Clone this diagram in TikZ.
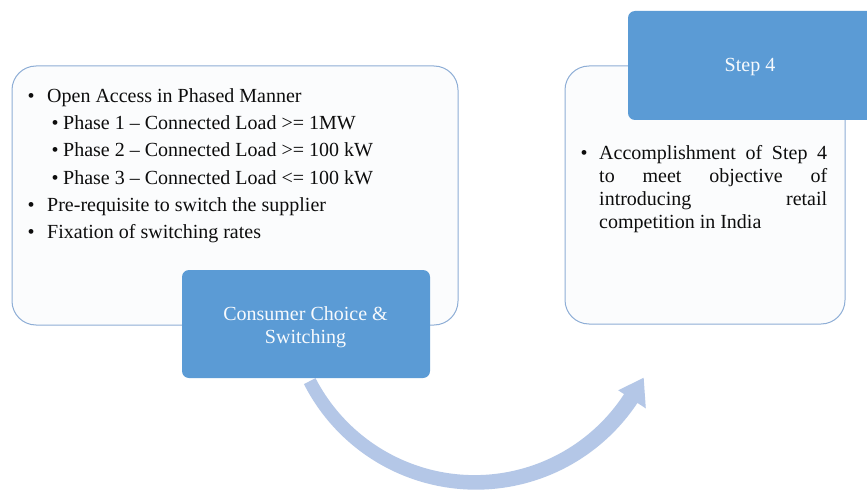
\documentclass[tikz,border=0pt]{standalone}
\usepackage{fontspec}
\setmainfont{Liberation Serif}
\definecolor{stepblue}{HTML}{5B9BD5}
\definecolor{panelline}{HTML}{8EAED6}
\definecolor{panelfill}{HTML}{FBFCFD}
\definecolor{arrowblue}{HTML}{B4C7E7}
\begin{document}
\begin{tikzpicture}[x=1pt,y=-1pt,
  panel/.style={draw=panelline, line width=1pt, fill=panelfill, rounded corners=24pt},
  stepbox/.style={fill=stepblue, rounded corners=7pt},
  txt/.style={anchor=base west, inner sep=0pt, font=\fontsize{20}{24}\selectfont, text=black!95},
  steptxt/.style={anchor=base, inner sep=0pt, font=\fontsize{20}{24}\selectfont, text=white!95!stepblue}]
\useasboundingbox (0,0) rectangle (867,492);
\fill[white] (0,0) rectangle (867,492);

% curved arrow linking the two steps (tapered band with a head)
\def\cx{475.3}\def\cy{296.4}\def\rr{186}
\fill[arrowblue]
  plot[domain=152.9:33.3, samples=70, smooth]
    ({\cx+(\rr+6.5+1.5*(152.9-\x)/119.6)*cos(\x)}, {\cy+(\rr+6.5+1.5*(152.9-\x)/119.6)*sin(\x)})
  -- ({\cx+204*cos(33.3)}, {\cy+204*sin(33.3)})
  -- ({\cx+187*cos(25.8)}, {\cy+187*sin(25.8)})
  -- ({\cx+171*cos(33.3)}, {\cy+171*sin(33.3)})
  -- plot[domain=33.3:152.9, samples=70, smooth]
    ({\cx+(\rr-6.5-1.5*(152.9-\x)/119.6)*cos(\x)}, {\cy+(\rr-6.5-1.5*(152.9-\x)/119.6)*sin(\x)})
  -- cycle;

% left panel
\path[panel] (12,66) rectangle (458,325);
\node[txt] (b1) at (27.5,103) {•};
\node[txt] (l1) at (47,103) {Open Access in Phased Manner};
\node[txt] (b2) at (51.5,130) {•};
\node[txt] (l2) at (63,130) {Phase 1 – Connected Load >= 1MW};
\node[txt] (b3) at (51.5,157) {•};
\node[txt] (l3) at (63,157) {Phase 2 – Connected Load >= 100 kW};
\node[txt] (b4) at (51.5,184) {•};
\node[txt] (l4) at (63,184) {Phase 3 – Connected Load <= 100 kW};
\node[txt] (b5) at (27.5,211) {•};
\node[txt] (l5) at (47,211) {Pre-requisite to switch the supplier};
\node[txt] (b6) at (27.5,238) {•};
\node[txt] (l6) at (47,238) {Fixation of switching rates};

% consumer choice box
\path[stepbox] (182,270) rectangle (430,378);
\node[steptxt] (c1) at (305.5,320) {Consumer Choice \&};
\node[steptxt] (c2) at (305.5,343) {Switching};

% right panel
\path[panel] (565,66) rectangle (845,324);
\path[stepbox] (628,11) rectangle (880,120);
\node[steptxt] (s4) at (750,72) {Step 4};
\node[txt] (rb) at (580.5,159) {•};
\node[txt] (r1) at (599,159) {\makebox[228pt][s]{Accomplishment of Step 4}};
\node[txt] (r2) at (599,182) {\makebox[228pt][s]{to meet objective of}};
\node[txt] (r3) at (599,205) {\makebox[228pt][s]{introducing retail}};
\node[txt] (r4) at (599,228) {competition in India};
\end{tikzpicture}
\end{document}
